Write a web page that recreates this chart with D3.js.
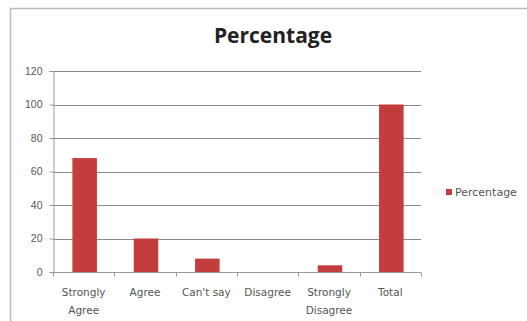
<!DOCTYPE html>
<html>
<head>
<meta charset="utf-8">
<script src="https://cdn.jsdelivr.net/npm/d3@7"></script>
<style>
  body { margin: 0; background: #fff; }
  svg { display: block; font-family: "DejaVu Sans", sans-serif; }
</style>
</head>
<body>
<div id="chart"></div>
<script>
const categories = ['Strongly Agree', 'Agree', "Can't say", 'Disagree', 'Strongly Disagree', 'Total'];
const percentage = [68, 20, 8, 0, 4, 100];
const yTicks = [0, 20, 40, 60, 80, 100, 120];
const seriesName = 'Percentage';

const width = 527;
const height = 321;
const margin = { top: 71, right: 106, bottom: 49, left: 53 };

const svg = d3.select('#chart').append('svg')
  .attr('width', width)
  .attr('height', height);

// chart frame
svg.append('path')
  .attr('d', `M10.5,${height}V8.5H${width}`)
  .attr('fill', 'none')
  .attr('stroke', '#bbb')
  .attr('stroke-width', 1.5);

svg.append('text')
  .attr('x', 273)
  .attr('y', 43)
  .attr('text-anchor', 'middle')
  .attr('font-family', '"Open Sans", sans-serif')
  .attr('font-size', 21)
  .attr('font-weight', 'bold')
  .attr('fill', '#222')
  .text(seriesName);

const x = d3.scaleBand()
  .domain(categories)
  .range([margin.left, width - margin.right])
  .paddingInner(0.6)
  .paddingOuter(0.3);

const xOuter = d3.scaleBand()
  .domain(categories)
  .range([margin.left, width - margin.right]);

const y = d3.scaleLinear()
  .domain([0, 120])
  .range([height - margin.bottom, margin.top]);

// gridlines
svg.append('g')
  .selectAll('line')
  .data(yTicks)
  .join('line')
  .attr('x1', margin.left)
  .attr('x2', width - margin.right)
  .attr('y1', d => Math.round(y(d)) + 0.5)
  .attr('y2', d => Math.round(y(d)) + 0.5)
  .attr('stroke', '#8a8a8a');

// y axis
const yAxis = svg.append('g')
  .attr('transform', `translate(${margin.left + 0.5},0)`)
  .call(d3.axisLeft(y).tickValues(yTicks).tickSize(4).tickPadding(7));
yAxis.select('.domain').attr('stroke', '#999');
yAxis.selectAll('.tick line').attr('stroke', '#999');
yAxis.selectAll('.tick text').attr('font-size', 10.5).attr('fill', '#555').attr('font-family', null);

// bars
svg.append('g')
  .selectAll('rect')
  .data(percentage)
  .join('rect')
  .attr('x', (d, i) => x(categories[i]) + 1)
  .attr('y', d => y(d))
  .attr('width', x.bandwidth())
  .attr('height', d => y(0) - y(d))
  .attr('fill', '#c43d3d');

// x axis
const xAxisG = svg.append('g')
  .attr('transform', `translate(0,${Math.round(y(0)) + 0.5})`);
xAxisG.append('line')
  .attr('x1', margin.left)
  .attr('x2', width - margin.right)
  .attr('stroke', '#999');
xAxisG.selectAll('.tk')
  .data(categories.concat(['end']))
  .join('line')
  .attr('class', 'tk')
  .attr('x1', (d, i) => Math.round(margin.left + i * xOuter.bandwidth()) + 0.5)
  .attr('x2', (d, i) => Math.round(margin.left + i * xOuter.bandwidth()) + 0.5)
  .attr('y1', 0)
  .attr('y2', 4)
  .attr('stroke', '#999');

const labels = xAxisG.selectAll('.lbl')
  .data(categories)
  .join('text')
  .attr('class', 'lbl')
  .attr('x', d => xOuter(d) + xOuter.bandwidth() / 2)
  .attr('y', 23)
  .attr('text-anchor', 'middle')
  .attr('font-size', 10.5)
  .attr('fill', '#555');

labels.each(function(d) {
  const t = d3.select(this);
  const words = (d === 'Strongly Agree' || d === 'Strongly Disagree') ? d.split(' ') : [d];
  words.forEach((w, i) => {
    t.append('tspan')
      .attr('x', xOuter(d) + xOuter.bandwidth() / 2)
      .attr('dy', i === 0 ? 0 : 18)
      .text(w);
  });
});

// legend
const legend = svg.append('g').attr('transform', 'translate(446,192)');
legend.append('rect')
  .attr('x', 0)
  .attr('y', -3)
  .attr('width', 6)
  .attr('height', 6)
  .attr('fill', '#c43d3d');
legend.append('text')
  .attr('x', 9)
  .attr('y', 4)
  .attr('font-size', 11)
  .attr('fill', '#555')
  .text(seriesName);
</script>
</body>
</html>
